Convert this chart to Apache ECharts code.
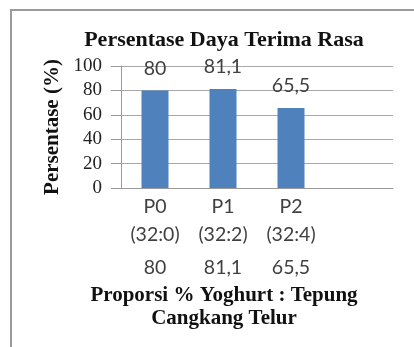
<!DOCTYPE html>
<html>
<head>
<meta charset="utf-8">
<style>
  html, body { margin: 0; padding: 0; background: #fff; }
  #chart { width: 414px; height: 347px; }
</style>
<script src="https://cdn.jsdelivr.net/npm/echarts@6/dist/echarts.min.js"></script>
</head>
<body>
<div id="chart"></div>
<script>
// Treatment codes, their yoghurt : eggshell-flour ratios, and the acceptance percentages
const categories = ['P0', 'P1', 'P2', ''];
const ratios = ['(32:0)', '(32:2)', '(32:4)', ''];
const acceptance = [80, 81.1, 65.5];
const yTicks = { min: 0, max: 100, interval: 20 };

const fmt = v => String(v).replace('.', ',');
const serif = '"Liberation Serif", "DejaVu Serif", serif';
const sans = 'Lato, "Open Sans", sans-serif';

const chart = echarts.init(document.getElementById('chart'));
chart.setOption({
  animation: false,
  backgroundColor: '#ffffff',
  grid: { left: 121, right: 21, top: 66, height: 122 },
  graphic: [
    {
      type: 'rect', silent: true,
      shape: { x: 11, y: 10, width: 430, height: 400 },
      style: { fill: 'none', stroke: '#9a9a9a', lineWidth: 2 }
    },
    {
      type: 'text', x: 224, y: 40,
      style: {
        text: 'Persentase Daya Terima Rasa', align: 'center', verticalAlign: 'middle',
        font: 'bold 22px ' + serif, fill: '#111'
      }
    },
    {
      type: 'text', x: 224, y: 307,
      style: {
        text: 'Proporsi % Yoghurt : Tepung\nCangkang Telur', align: 'center', verticalAlign: 'middle',
        font: 'bold 21px ' + serif, fill: '#111', lineHeight: 23
      }
    }
  ],
  xAxis: {
    type: 'category',
    data: categories,
    axisLine: { lineStyle: { color: '#9a9a9a', width: 1 } },
    axisTick: { show: false },
    axisLabel: {
      margin: 5,
      interval: 0,
      formatter: (val, i) => val === '' ? '' :
        '{a|' + val + '}\n{a|' + ratios[i] + '}\n{v|' + fmt(acceptance[i]) + '}',
      rich: {
        a: { fontFamily: sans, fontSize: 19.5, lineHeight: 28, color: '#404040' },
        v: { fontFamily: sans, fontSize: 19.5, lineHeight: 38, color: '#404040' }
      }
    }
  },
  yAxis: {
    type: 'value',
    min: yTicks.min, max: yTicks.max, interval: yTicks.interval,
    name: 'Persentase (%)',
    nameLocation: 'middle',
    nameGap: 55,
    nameTextStyle: { fontFamily: serif, fontWeight: 'bold', fontSize: 21, color: '#111' },
    axisLine: { show: true, lineStyle: { color: '#9a9a9a', width: 1 } },
    axisTick: { show: true, length: 10, lineStyle: { color: '#9a9a9a' } },
    axisLabel: { margin: 19, fontFamily: serif, fontSize: 19, color: '#222' },
    splitLine: { lineStyle: { color: '#a8a8a8', width: 1 } }
  },
  series: [{
    type: 'bar',
    data: acceptance,
    barWidth: 27,
    itemStyle: { color: '#4f81bd' },
    label: {
      show: true, position: 'top', distance: 12,
      formatter: p => fmt(p.value),
      fontFamily: sans, fontSize: 19.5, color: '#404040'
    }
  }]
});
</script>
</body>
</html>
